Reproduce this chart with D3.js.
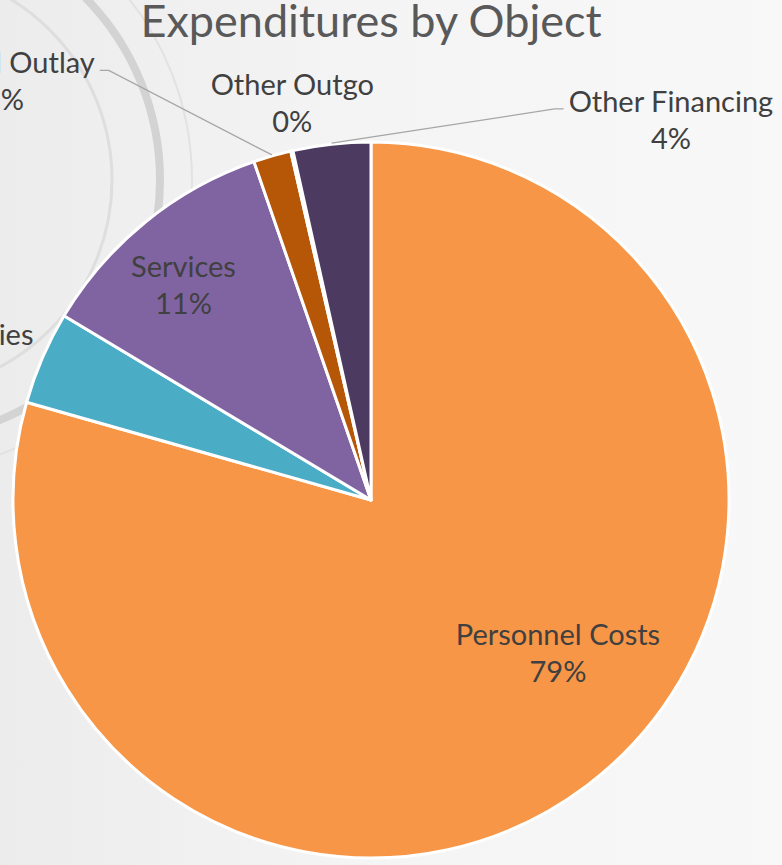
<!DOCTYPE html>
<html><head><meta charset="utf-8">
<script src="https://cdn.jsdelivr.net/npm/d3@7"></script>
<style>html,body{margin:0;padding:0;background:#f7f7f7;} svg{display:block;}</style>
</head><body>
<svg id="chart" width="782" height="865"></svg>
<script>
// ---- data ----
const categories = ["Personnel Costs", "Supplies", "Services", "Capital Outlay", "Other Outgo", "Other Financing"];
const shares = [79.4, 4.2, 11.1, 1.7, 0.1, 3.5];
const colors = ["#F79646", "#4BACC6", "#8064A2", "#B65708", "#31859C", "#4D3A61"];
const chartTitle = "Expenditures by Object";

// ---- layout (label placement in polar coordinates, leader flags) ----
const labelAngle = [127.8, 291.6, 320.0, 319.3, 349.0, 37.7];
const labelDist  = [0.661, 1.173, 0.815, 1.572, 1.152, 1.370];
const labelLeader = [null, null, null, "right", null, "left"];

const W = 782, H = 865;
const cx = 371, cy = 500, R = 358;
const svg = d3.select("#chart");
const defs = svg.append("defs");

// background + faint watermark (decoration only)
const grad = defs.append("linearGradient").attr("id", "bg").attr("x1", 0).attr("x2", 1).attr("y1", 0).attr("y2", 0);
grad.append("stop").attr("offset", 0).attr("stop-color", "#ececec");
grad.append("stop").attr("offset", 0.45).attr("stop-color", "#f4f4f4");
grad.append("stop").attr("offset", 1).attr("stop-color", "#f8f8f8");
svg.append("rect").attr("width", W).attr("height", H).attr("fill", "url(#bg)");
const wm = svg.append("g").attr("fill", "none");
wm.append("circle").attr("cx", -100).attr("cy", 180).attr("r", 260).attr("stroke", "#d3d3d3").attr("stroke-width", 8);
wm.append("circle").attr("cx", -100).attr("cy", 180).attr("r", 292).attr("stroke", "#e2e2e2").attr("stroke-width", 2);
wm.append("circle").attr("cx", -100).attr("cy", 180).attr("r", 212).attr("stroke", "#dedede").attr("stroke-width", 3);

// pie
const pie = d3.pie().sort(null).value(d => d)(shares);
const arc = d3.arc().innerRadius(0).outerRadius(R);
const g = svg.append("g").attr("transform", `translate(${cx},${cy})`);
g.selectAll("path.slice").data(pie).join("path")
  .attr("class", "slice")
  .attr("d", arc)
  .attr("fill", (d, i) => colors[i])
  .attr("stroke", "#ffffff").attr("stroke-width", 3).attr("stroke-linejoin", "round");

// labels
const fontFam = "Lato, 'Open Sans', sans-serif";
const fs = 29, lh = 37;
const total = d3.sum(shares);
const polar = (deg, dist) => {
  const a = deg * Math.PI / 180;
  return [dist * Math.sin(a), -dist * Math.cos(a)];
};
pie.forEach((d, i) => {
  const [lx, ly] = polar(labelAngle[i], labelDist[i] * R);
  const t = g.append("text").attr("font-family", fontFam).attr("font-size", fs)
    .attr("fill", "#404040").attr("text-anchor", "middle");
  t.append("tspan").attr("x", lx).attr("y", ly).text(categories[i]);
  t.append("tspan").attr("x", lx).attr("y", ly + lh).text(Math.round(shares[i] / total * 100) + "%");
  if (labelLeader[i]) {
    const w = t.select("tspan").node().getComputedTextLength();
    const mid = (d.startAngle + d.endAngle) / 2;
    const ex = (R + 1) * Math.sin(mid), ey = -(R + 1) * Math.cos(mid);
    const side = labelLeader[i] === "right" ? 1 : -1;
    const edgeX = lx + side * w / 2;
    const p = d3.path();
    p.moveTo(ex, ey);
    p.lineTo(edgeX + side * 14, ly - 3);
    p.lineTo(edgeX + side * 5, ly - 3);
    g.append("path").attr("d", p.toString()).attr("fill", "none")
      .attr("stroke", "#a6a6a6").attr("stroke-width", 1.3);
  }
});

// title
svg.append("text").attr("x", cx).attr("y", 37).attr("text-anchor", "middle")
  .attr("font-family", fontFam).attr("font-size", 45).attr("fill", "#595959")
  .text(chartTitle);
</script>
</body></html>
